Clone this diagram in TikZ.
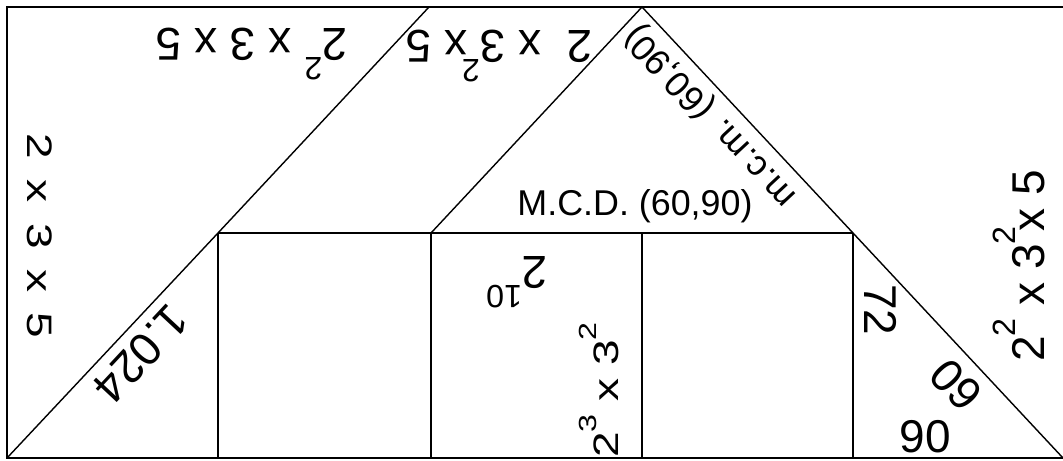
\documentclass[tikz,border=0pt]{standalone}
\usepackage{fontspec}
\setmainfont{Liberation Sans}
\usepackage{graphicx}
\usepackage{tikz}
\usetikzlibrary{positioning, calc}

% raised, shrunk exponent (with and without its own width)
\newcommand{\pot}[1]{\raisebox{0.64em}{\scalebox{0.7}{#1}}}
\newcommand{\potz}[1]{\rlap{\pot{#1}}}

\begin{document}
\begin{tikzpicture}[
  x = 0.025cm, y = -0.025cm,
  frame/.style  = {line width=1.3pt, black},
  cut/.style    = {line width=1pt, black},
  bignum/.style = {inner sep=0pt, font=\fontsize{32.7pt}{36pt}\selectfont},
  midnum/.style = {inner sep=0pt, font=\fontsize{25.5pt}{30pt}\selectfont}
]
\useasboundingbox (0,0) rectangle (1063,460);

% ── Grid corners ─────────────────────────────────────────────────────────────
\coordinate (tl) at (7,7);
\coordinate (tr) at (1063,7);
\coordinate (bl) at (7,458);
\coordinate (br) at (1063,458);
\coordinate (t1) at (429,7);
\coordinate (t2) at (642,7);
\coordinate (m1) at (218,233);
\coordinate (m2) at (431,233);
\coordinate (m3) at (642,233);
\coordinate (m4) at (853,233);
\coordinate (b1) at (218,458);
\coordinate (b2) at (431,458);
\coordinate (b3) at (642,458);
\coordinate (b4) at (853,458);

% ── Outer frame (open on the right) ──────────────────────────────────────────
\draw[frame] (tr) -- (tl) -- (bl) -- (br);

% ── Cuts ─────────────────────────────────────────────────────────────────────
\draw[cut] (bl) -- (m1) -- (t1);
\draw[cut] (m1) -- (b1);
\draw[cut] (m1) -- (m4);
\draw[cut] (m2) -- (b2);
\draw[cut] (m2) -- (t2) -- (m4) -- (br);
\draw[cut] (m3) -- (b3);
\draw[cut] (m4) -- (b4);

% ── Top row ──────────────────────────────────────────────────────────────────
\node[bignum, rotate=180] (fa) at (252,54) {2\pot{2} x 3 x 5};
\node[bignum, rotate=180] (fb) at (499,56) {2~ x 3\potz{2} x 5};
\node[midnum, rotate=133] (mcm) at (711,116) {m.c.m. (60,90)};
\node[midnum] (mcd) at (635,206) {M.C.D. (60,90)};

% ── Left column ──────────────────────────────────────────────────────────────
\node[bignum, rotate=-90, yscale=0.77] (fc) at (40,236) {2 \,x \,3 \,x \,5};
\node[bignum, rotate=-133] (kilo) at (141,354) {1.024};

% ── Middle square ────────────────────────────────────────────────────────────
\node[bignum, rotate=180] (pw) at (517,282) {2\pot{10}};
\node[bignum, rotate=90, yscale=0.77] (fd) at (599,390) {2\pot{3} x 3\pot{2}};

% ── Right triangle ───────────────────────────────────────────────────────────
\node[bignum, rotate=-90] (sd) at (881,310) {72};
\node[bignum, rotate=133] (sa) at (956,385) {60};
\node[bignum] (sb) at (925,437) {90};
\node[bignum, rotate=90] (fe) at (1019,266) {2\pot{2} x 3\potz{2} x 5};
\end{tikzpicture}
\end{document}
